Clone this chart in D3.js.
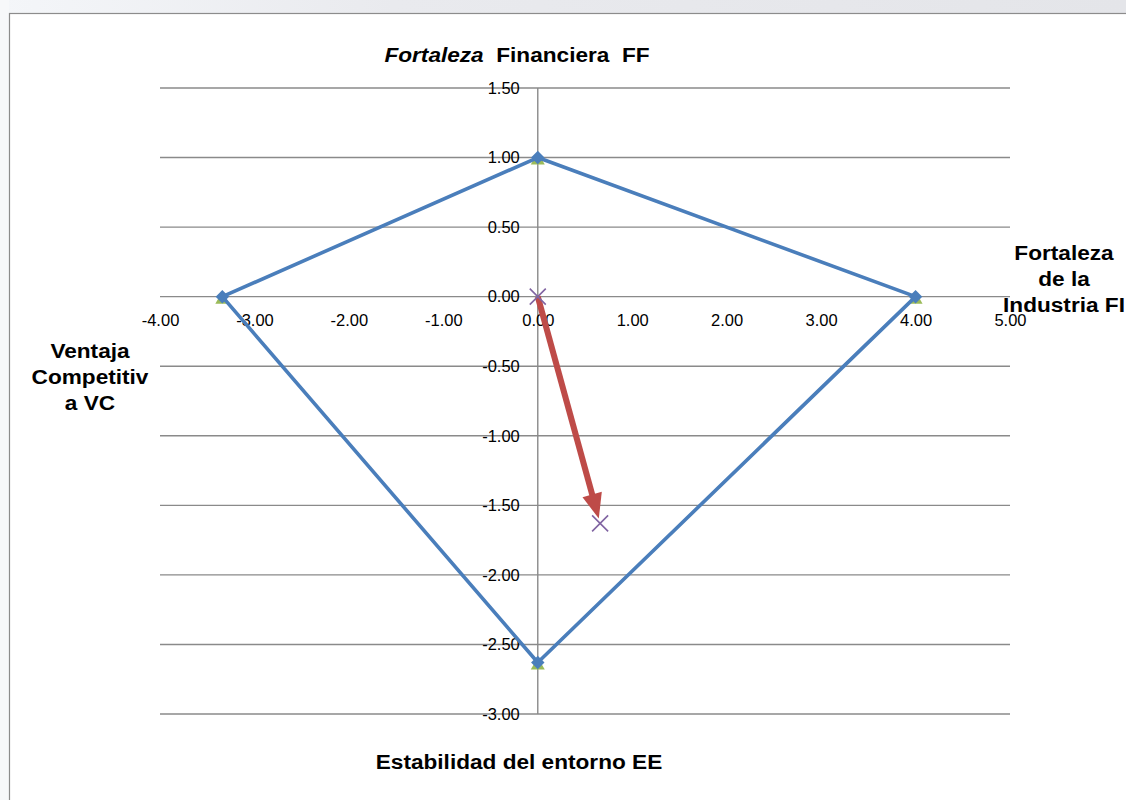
<!DOCTYPE html>
<html>
<head>
<meta charset="utf-8">
<script src="https://cdn.jsdelivr.net/npm/d3@7"></script>
<style>
  html, body { margin: 0; padding: 0; background: #fff; }
  svg { display: block; }
</style>
</head>
<body>
<svg id="chart" width="1126" height="800"></svg>
<script>
// Vertices of the strategic position polygon (FI, FF, VC, EE axes)
const polyX = [-3.34, 0, 4, 0, -3.34];
const polyY = [0, 1, 0, -2.63, 0];
// Resulting direction vector
const vecX = [0, 0.66];
const vecY = [0, -1.63];
// Axis ticks
const xTicks = [-4, -3, -2, -1, 0, 1, 2, 3, 4, 5];
const yTicks = [1.5, 1, 0.5, 0, -0.5, -1, -1.5, -2, -2.5, -3];

const svg = d3.select("#chart");
const font = "'Liberation Sans', Arial, sans-serif";
const fmt = d => d3.format(".2f")(d).replace("\u2212", "-");

// faint band above the chart frame
const grad = svg.append("defs").append("linearGradient").attr("id", "band");
grad.append("stop").attr("offset", "0%").attr("stop-color", "#f4f6f9");
grad.append("stop").attr("offset", "35%").attr("stop-color", "#e9eaee");
grad.append("stop").attr("offset", "100%").attr("stop-color", "#e4e5e9");
svg.append("rect").attr("x", 0).attr("y", 0).attr("width", 1126).attr("height", 13)
  .attr("fill", "url(#band)");
svg.append("rect").attr("x", 0).attr("y", 0).attr("width", 9).attr("height", 800)
  .attr("fill", "#f7f8fa");

// chart frame
svg.append("rect").attr("x", 9.5).attr("y", 13.5).attr("width", 1130).attr("height", 800)
  .attr("fill", "#fff").attr("stroke", "#8c8c8c").attr("stroke-width", 1.2);

const x = d3.scaleLinear().domain([-4, 5]).range([160, 1010]);
const y = d3.scaleLinear().domain([-3, 1.5]).range([714, 88]);

// horizontal gridlines
svg.append("g").selectAll("line").data(yTicks).join("line")
  .attr("x1", x(-4)).attr("x2", x(5))
  .attr("y1", d => y(d)).attr("y2", d => y(d))
  .attr("stroke", "#8a8a8a").attr("stroke-width", 1.4);

// vertical axis through x = 0
svg.append("line")
  .attr("x1", x(0)).attr("x2", x(0)).attr("y1", y(1.5)).attr("y2", y(-3))
  .attr("stroke", "#8a8a8a").attr("stroke-width", 1.4);

// x tick labels sit just under the horizontal axis
const xAxis = d3.axisBottom(x).tickValues(xTicks).tickSize(0).tickPadding(18)
  .tickFormat(fmt);
const gx = svg.append("g").attr("transform", `translate(0,${y(0)})`).call(xAxis);
gx.select(".domain").remove();
gx.selectAll("text").attr("font-family", font).attr("font-size", 16.5).attr("fill", "#000");

// y tick labels to the left of the vertical axis
const yAxis = d3.axisLeft(y).tickValues(yTicks).tickSize(0).tickPadding(18)
  .tickFormat(fmt);
const gy = svg.append("g").attr("transform", `translate(${x(0)},0)`).call(yAxis);
gy.select(".domain").remove();
gy.selectAll("text").attr("font-family", font).attr("font-size", 16.5).attr("fill", "#000");

const pts = polyX.map((v, i) => [v, polyY[i]]);

// green triangle markers (underlying series)
svg.append("g").selectAll("path").data(pts.slice(0, 4)).join("path")
  .attr("d", d3.symbol(d3.symbolTriangle, 85))
  .attr("transform", d => `translate(${x(d[0])},${y(d[1]) + 3})`)
  .attr("fill", "#9bbb59");

// polygon outline
const line = d3.line().x(d => x(d[0])).y(d => y(d[1]));
svg.append("path").datum(pts).attr("d", line)
  .attr("fill", "none").attr("stroke", "#4a7ebb").attr("stroke-width", 3.6)
  .attr("stroke-linejoin", "round");

// diamond markers
svg.append("g").selectAll("path").data(pts.slice(0, 4)).join("path")
  .attr("d", d3.symbol(d3.symbolSquare, 90))
  .attr("transform", d => `translate(${x(d[0])},${y(d[1])}) rotate(45)`)
  .attr("fill", "#4a7ebb");

// direction vector with arrow head
const vec = vecX.map((v, i) => [v, vecY[i]]);
const x0 = x(vec[0][0]), y0 = y(vec[0][1]), x1 = x(vec[1][0]), y1 = y(vec[1][1]);
const ang = Math.atan2(y1 - y0, x1 - x0);
const headLen = 25, headHalf = 10;
const tipX = x1 - Math.cos(ang) * 5, tipY = y1 - Math.sin(ang) * 5;
const baseX = tipX - Math.cos(ang) * headLen, baseY = tipY - Math.sin(ang) * headLen;
svg.append("line")
  .attr("x1", x0).attr("y1", y0).attr("x2", baseX + Math.cos(ang) * 2).attr("y2", baseY + Math.sin(ang) * 2)
  .attr("stroke", "#be4b48").attr("stroke-width", 6);
svg.append("path")
  .attr("d", `M${tipX},${tipY}` +
    `L${baseX + Math.sin(ang) * headHalf},${baseY - Math.cos(ang) * headHalf}` +
    `L${baseX - Math.sin(ang) * headHalf},${baseY + Math.cos(ang) * headHalf}Z`)
  .attr("fill", "#be4b48");

// cross markers at the vector ends
svg.append("g").selectAll("path").data(vec).join("path")
  .attr("d", d => {
    const cx = x(d[0]), cy = y(d[1]), r = 8;
    return `M${cx - r},${cy - r}L${cx + r},${cy + r}M${cx - r},${cy + r}L${cx + r},${cy - r}`;
  })
  .attr("stroke", "#8064a2").attr("stroke-width", 1.6).attr("fill", "none");

// axis titles, drawn slightly widened
const stretch = 1.16;
const makeText = (tx, ty) => svg.append("g")
  .attr("transform", `translate(${tx},${ty}) scale(${stretch},1)`)
  .append("text").attr("x", 0).attr("y", 0)
  .attr("text-anchor", "middle").attr("font-family", font)
  .attr("font-size", 19.5).attr("font-weight", "bold").attr("fill", "#000");

const title = (tx, ty, lines) => {
  const t = makeText(tx, ty);
  lines.forEach((l, i) => t.append("tspan").attr("x", 0).attr("dy", i === 0 ? 0 : 26).text(l));
  return t;
};

const topTitle = makeText(517, 62);
topTitle.append("tspan").attr("font-style", "italic").text("Fortaleza");
topTitle.append("tspan").text("\u00a0 Financiera \u00a0FF");

title(1064, 260, ["Fortaleza", "de la", "Industria FI"]);
title(90, 358, ["Ventaja", "Competitiv", "a VC"]);
title(519, 769, ["Estabilidad del entorno EE"]);
</script>
</body>
</html>
